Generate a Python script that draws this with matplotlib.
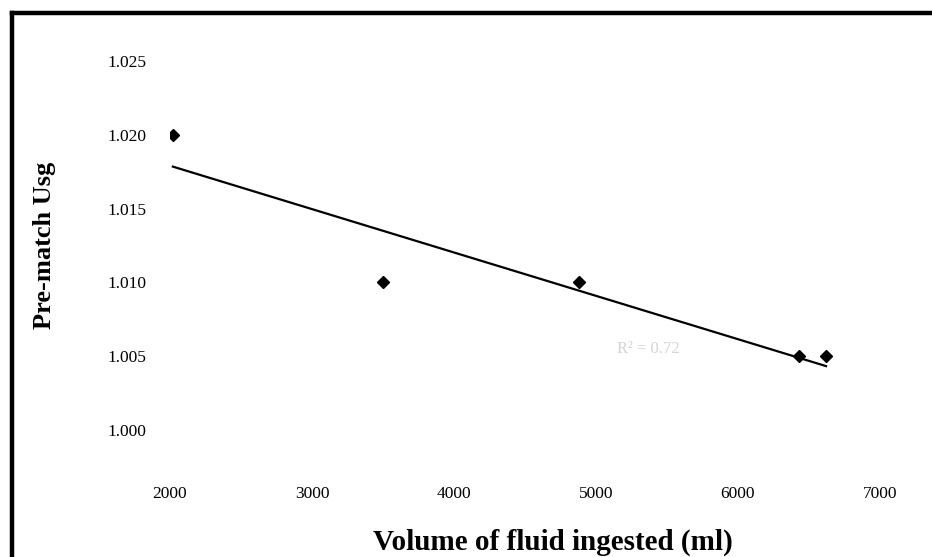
import numpy as np
import matplotlib.pyplot as plt
from matplotlib.lines import Line2D

# fluid intake (ml) vs pre-match urine specific gravity
volume_ml = [2020, 3500, 4880, 6430, 6620]
usg = [1.020, 1.010, 1.010, 1.005, 1.005]

x_ticks = [2000, 3000, 4000, 5000, 6000, 7000]
y_ticks = [1.000, 1.005, 1.010, 1.015, 1.020, 1.025]


def tendencia(x, y):
    coef = np.polyfit(x, y, 1)
    xs = np.array([min(x), max(x)])
    return xs, np.polyval(coef, xs)


def main():
    plt.rcParams["font.family"] = ["Liberation Serif", "DejaVu Serif"]

    fig = plt.figure(figsize=(9.32, 5.57), dpi=100)
    ax = fig.add_axes([0.1824, 0.228, 0.7618, 0.6625])

    ax.plot(volume_ml, usg, linestyle="none", marker="D", markersize=6,
            color="black")
    xs, ys = tendencia(volume_ml, usg)
    ax.plot(xs, ys, color="black", linewidth=1.6)

    ax.set_xlim(2000, 7000)
    ax.set_ylim(1.000, 1.025)
    ax.set_xticks(x_ticks)
    ax.set_yticks(y_ticks)
    ax.set_xticklabels([str(t) for t in x_ticks])
    ax.set_yticklabels([f"{t:.3f}" for t in y_ticks])
    ax.tick_params(axis="x", length=0, pad=40, labelsize=12.5)
    ax.tick_params(axis="y", length=0, pad=17, labelsize=12.5)

    for s in ax.spines.values():
        s.set_visible(False)

    ax.text(5150, 1.0052, "R² = 0.72", fontsize=12, color="#d4d4d4")

    fig.text(0.593, 0.027, "Volume of fluid ingested (ml)", fontsize=21,
             fontweight="bold", ha="center", va="center")
    fig.text(0.048, 0.56, "Pre-match Usg", rotation=90, fontsize=19,
             fontweight="bold", ha="center", va="center")

    # borda da figura (esquerda e topo)
    fig.add_artist(Line2D([0.0125, 0.0125], [0.0, 0.976], color="black",
                          linewidth=3.2, transform=fig.transFigure))
    fig.add_artist(Line2D([0.0125, 1.0], [0.976, 0.976], color="black",
                          linewidth=3.2, transform=fig.transFigure))

    fig.savefig("out.png", dpi=100)


if __name__ == "__main__":
    main()
